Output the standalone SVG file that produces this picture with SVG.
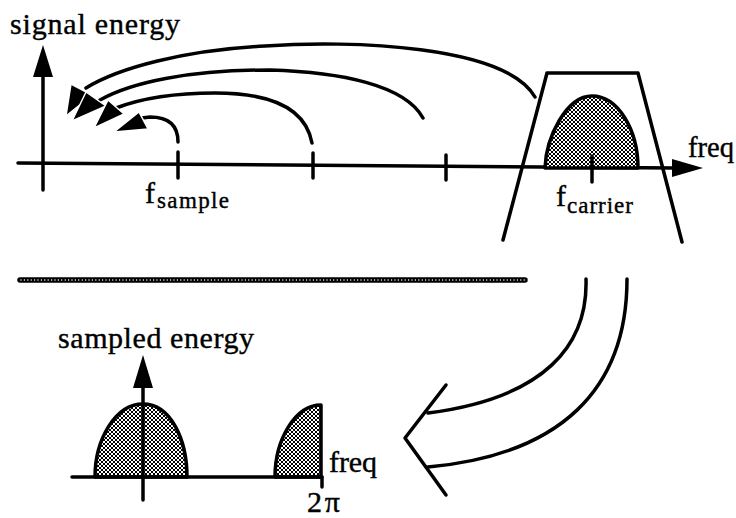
<svg xmlns="http://www.w3.org/2000/svg" width="736" height="518" viewBox="0 0 736 518">
<style>
  .ln { fill: none; stroke: #000; stroke-width: 3.5; stroke-linecap: round; stroke-linejoin: round; }
  .head { fill: #000; stroke: none; }
  .headw { fill: #000; stroke: #fff; stroke-width: 1.5; stroke-linejoin: miter; }
  .txt { font-family: "Liberation Serif", "Times New Roman", serif; fill: #000; stroke: #000; stroke-width: 0.4; }
  .big { font-size: 30px; }
  .sub { font-size: 23px; }
  .bump { fill: url(#hatch); stroke: #000; stroke-width: 3.5; stroke-linejoin: round; }
</style>
<defs>
  <pattern id="hatch" patternUnits="userSpaceOnUse" width="4" height="4">
    <rect width="4" height="4" fill="#fff"/>
    <path d="M0,0 L4,4 M4,0 L0,4" stroke="#000" stroke-width="1"/>
  </pattern>
</defs>
<rect width="736" height="518" fill="#fff"/>

<g id="top-axes">
  <line class="ln" x1="43" y1="190" x2="43" y2="72"/>
  <polygon class="head" points="43,45 33,77 53,77"/>
  <line class="ln" x1="18" y1="163" x2="675" y2="168"/>
  <polygon class="head" points="703,168 672,159 672,177"/>
  <line class="ln" x1="178" y1="152" x2="178" y2="178"/>
  <line class="ln" x1="313" y1="153" x2="313" y2="178"/>
  <line class="ln" x1="446" y1="155" x2="446" y2="180"/>
</g>

<g id="signal-bump">
  <path class="bump" d="M545,168 C546,138 566,96 592,96 C618,96 638,130 638,168 Z"/>
  <line class="ln" x1="592" y1="156" x2="592" y2="182"/>
</g>

<g id="filter">
  <path class="ln" d="M503,240 L547,73 L638,73 L682,242"/>
</g>

<g id="connectors">
  <path class="ln" d="M535,97 C505,45 350,40 265,46 C185,50 118,68 86,88"/>
  <polygon class="headw" points="66,116 71,84 92,95"/>
  <path class="ln" d="M423,118 C405,85 340,72 270,70 C190,70 132,82 100,100"/>
  <polygon class="headw" points="72,121 86,92 106,106"/>
  <path class="ln" d="M312,143 C305,105 265,93 215,93 C170,93 137,100 116,108"/>
  <polygon class="headw" points="94,128 108,100 124,114"/>
  <path class="ln" d="M178,142 C178,125 168,117 150,117 L142,118"/>
  <polygon class="headw" points="114,132 139,112 148,129"/>
</g>

<g id="labels-top">
  <text class="txt big" x="10" y="34" textLength="170" lengthAdjust="spacing">signal energy</text>
  <text class="txt big" x="145" y="203">f</text>
  <text class="txt sub" x="157" y="208" textLength="72" lengthAdjust="spacing">sample</text>
  <text class="txt big" x="556" y="206">f</text>
  <text class="txt sub" x="567" y="213" textLength="66" lengthAdjust="spacing">carrier</text>
  <text class="txt big" x="688" y="157" textLength="46" lengthAdjust="spacingAndGlyphs">freq</text>
</g>

<g id="separator">
  <line x1="20" y1="280" x2="525" y2="280" stroke="#000" stroke-width="5.5" stroke-linecap="round"/>
  <line x1="21" y1="280" x2="525" y2="280" stroke="#fff" stroke-width="1.4" stroke-linecap="round" stroke-dasharray="0 3.4"/>
</g>

<g id="transform-arrow">
  <path class="ln" d="M586,279 C588,345 545,398 428,413"/>
  <path class="ln" d="M627,279 C627,390 560,455 428,467"/>
  <path class="ln" d="M446,385 L405,438 L446,495"/>
</g>

<g id="bottom-plot">
  <path class="bump" d="M95,477 C95,440 115,404 143,404 C171,404 187,440 187,477 Z"/>
  <path class="bump" d="M275,477 C275,440 295,405 321,405 L321,477 Z"/>
  <line class="ln" x1="72" y1="477" x2="322" y2="477"/>
  <line class="ln" x1="322" y1="477" x2="322" y2="487"/>
  <line class="ln" x1="143" y1="385" x2="143" y2="500"/>
  <polygon class="head" points="143,355 133,388 153,388"/>
  <text class="txt big" x="58" y="348" textLength="196" lengthAdjust="spacing">sampled energy</text>
  <text class="txt big" x="329" y="472" textLength="48" lengthAdjust="spacing">freq</text>
  <text class="txt big" x="307" y="512" textLength="33" lengthAdjust="spacing">2π</text>
</g>
</svg>
